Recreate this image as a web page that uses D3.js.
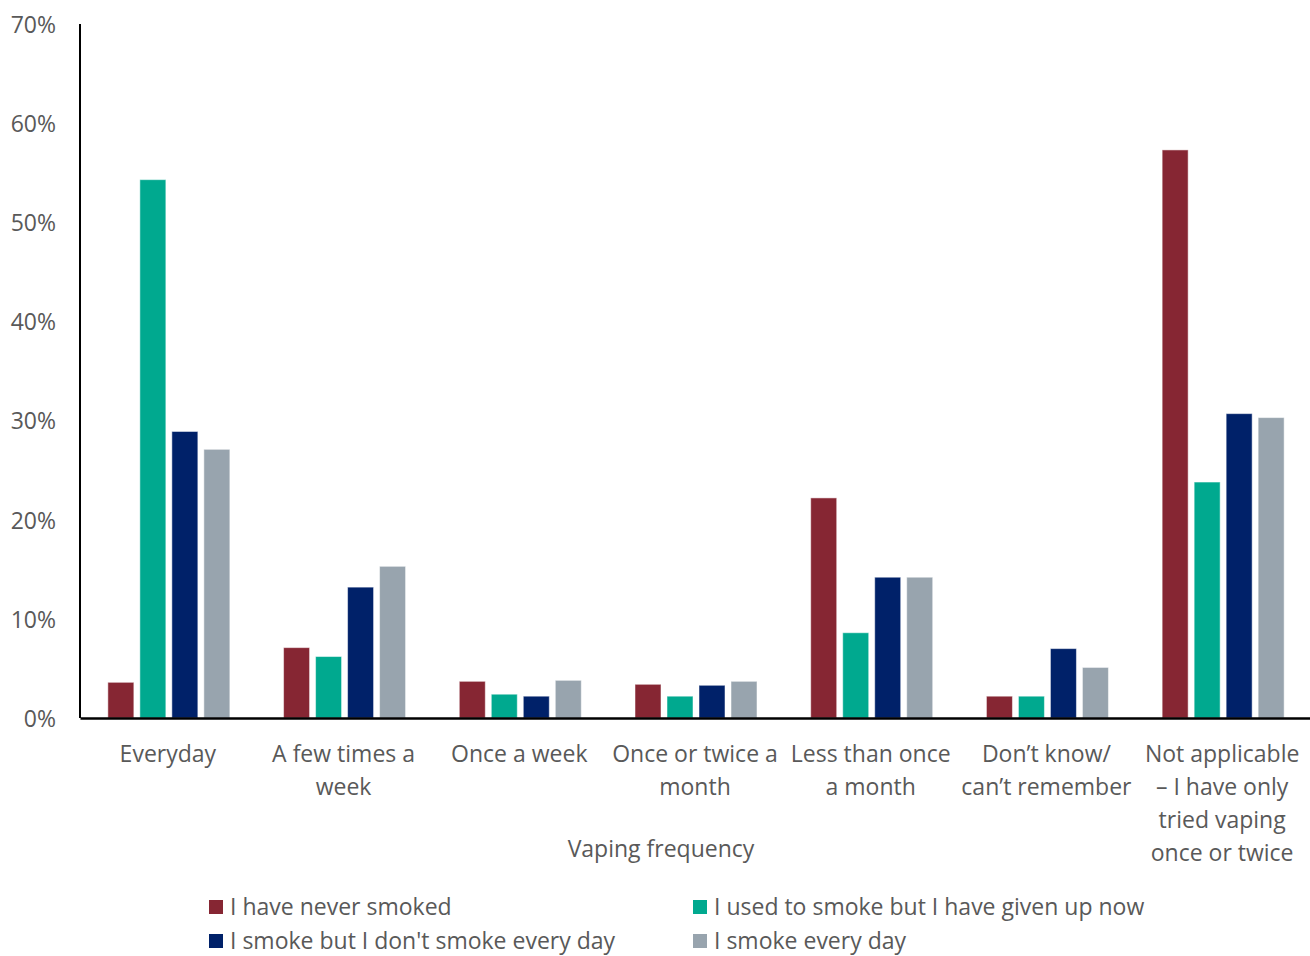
<!DOCTYPE html>
<html><head><meta charset="utf-8">
<script src="https://cdnjs.cloudflare.com/ajax/libs/d3/7.8.5/d3.min.js"></script>
<style>body{margin:0;background:#fff}svg{display:block}</style>
</head><body>
<svg id="c" width="1310" height="956"></svg>
<script>
const categories = [
  ["Everyday"],
  ["A few times a", "week"],
  ["Once a week"],
  ["Once or twice a", "month"],
  ["Less than once", "a month"],
  ["Don\u2019t know/", "can\u2019t remember"],
  ["Not applicable", "\u2013 I have only", "tried vaping", "once or twice"]
];
const seriesNames = ["I have never smoked", "I used to smoke but I have given up now", "I smoke but I don't smoke every day", "I smoke every day"];
const neverSmoked = [3.6, 7.1, 3.7, 3.4, 22.2, 2.2, 57.3];
const exSmoker = [54.3, 6.2, 2.4, 2.2, 8.6, 2.2, 23.8];
const notDaily = [28.9, 13.2, 2.2, 3.3, 14.2, 7.0, 30.7];
const daily = [27.1, 15.3, 3.8, 3.7, 14.2, 5.1, 30.3];
const yTicks = [0, 10, 20, 30, 40, 50, 60, 70];
const colors = ["#862633", "#00A98F", "#002169", "#98A4AE"];

const series = [neverSmoked, exSmoker, notDaily, daily];
const svg = d3.select("#c");
const font = "'Open Sans', sans-serif";
const fs = "23px";
const textColor = "#595959";
const L = 80, R = 1310, T = 24, B = 718;

const x = d3.scaleBand().domain(d3.range(categories.length)).range([L, R]).paddingInner(0).paddingOuter(0);
const y = d3.scaleLinear().domain([0, 70]).range([B, T]);
const xs = d3.scaleBand().domain(d3.range(4)).range([0, 122]).paddingInner(6/32).paddingOuter(0);
const groupOffset = (x.bandwidth() - 122) / 2 + 1;

// y axis labels
const yAxis = d3.axisLeft(y).tickValues(yTicks).tickFormat(d => d + "%").tickSize(0).tickPadding(24);
const gy = svg.append("g").attr("transform", `translate(${L},1)`).call(yAxis);
gy.select(".domain").remove();
gy.selectAll("text").attr("fill", textColor).style("font-family", font).style("font-size", fs);

// bars
const g = svg.append("g");
series.forEach((vals, si) => {
  g.selectAll(null).data(vals).enter().append("rect")
    .attr("x", (d, i) => x(i) + groupOffset + xs(si))
    .attr("y", d => y(d))
    .attr("width", xs.bandwidth())
    .attr("height", d => y(0) - y(d))
    .attr("fill", colors[si])
    .attr("stroke", "#fff").attr("stroke-opacity", 0.5).attr("stroke-width", 1);
});

// axes lines
svg.append("line").attr("x1", L).attr("x2", L).attr("y1", T).attr("y2", B).attr("stroke", "#000").attr("stroke-width", 2);
const xAxis = d3.axisBottom(x).tickSize(0).tickFormat("");
const gx = svg.append("g").attr("transform", `translate(0,${B})`).call(xAxis);
gx.select(".domain").attr("stroke", "#000").attr("stroke-width", 2.5);

// category labels
categories.forEach((lines, i) => {
  const t = svg.append("text").attr("text-anchor", "middle")
    .attr("fill", textColor).style("font-family", font).style("font-size", fs);
  lines.forEach((ln, j) => {
    t.append("tspan").attr("x", x(i) + x.bandwidth() / 2).attr("y", 762 + j * 33).text(ln);
  });
});

// axis title
svg.append("text").attr("x", 661).attr("y", 857).attr("text-anchor", "middle")
  .attr("fill", textColor).style("font-family", font).style("font-size", fs).text("Vaping frequency");

// legend
const legPos = [[209, 907], [693, 907], [209, 941], [693, 941]];
seriesNames.forEach((name, i) => {
  const [lx, ly] = legPos[i];
  svg.append("rect").attr("x", lx).attr("y", ly - 7).attr("width", 14).attr("height", 14).attr("fill", colors[i]);
  svg.append("text").attr("x", lx + 21).attr("y", ly + 8).attr("fill", textColor)
    .style("font-family", font).style("font-size", fs).text(name);
});
</script>
</body></html>
